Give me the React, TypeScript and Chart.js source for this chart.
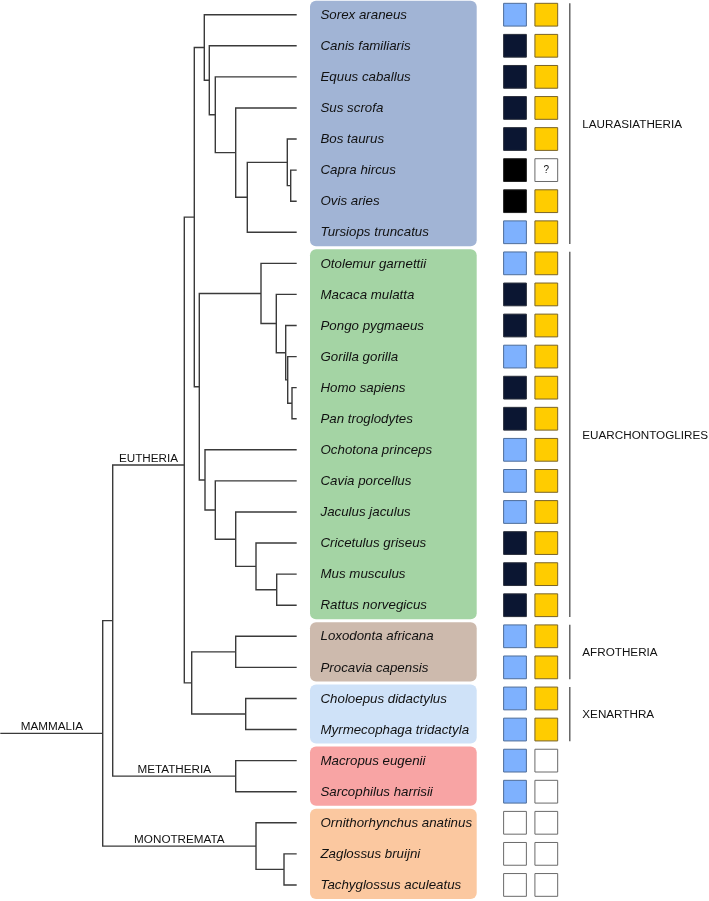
import React, { useEffect, useRef } from 'react';
import { Chart, registerables } from 'chart.js';

Chart.register(...registerables);

// ---------- data ----------
const species = [
  'Sorex araneus', 'Canis familiaris', 'Equus caballus', 'Sus scrofa', 'Bos taurus',
  'Capra hircus', 'Ovis aries', 'Tursiops truncatus',
  'Otolemur garnettii', 'Macaca mulatta', 'Pongo pygmaeus', 'Gorilla gorilla',
  'Homo sapiens', 'Pan troglodytes', 'Ochotona princeps', 'Cavia porcellus',
  'Jaculus jaculus', 'Cricetulus griseus', 'Mus musculus', 'Rattus norvegicus',
  'Loxodonta africana', 'Procavia capensis',
  'Choloepus didactylus', 'Myrmecophaga tridactyla',
  'Macropus eugenii', 'Sarcophilus harrisii',
  'Ornithorhynchus anatinus', 'Zaglossus bruijni', 'Tachyglossus aculeatus',
];

// first trait column: L = light blue, D = dark navy, K = black, W = absent
const traitA = [
  'L', 'D', 'D', 'D', 'D', 'K', 'K', 'L',
  'L', 'D', 'D', 'L', 'D', 'D', 'L', 'L', 'L', 'D', 'D', 'D',
  'L', 'L', 'L', 'L', 'L', 'L', 'W', 'W', 'W',
];
// second trait column: Y = yellow, Q = unknown, W = absent
const traitB = [
  'Y', 'Y', 'Y', 'Y', 'Y', 'Q', 'Y', 'Y',
  'Y', 'Y', 'Y', 'Y', 'Y', 'Y', 'Y', 'Y', 'Y', 'Y', 'Y', 'Y',
  'Y', 'Y', 'Y', 'Y', 'W', 'W', 'W', 'W', 'W',
];

// internal tree nodes (depth = distance along the horizontal axis)
const nodeIds = [
  'Mammalia', 'Theria', 'Eutheria', 'Boreoeutheria', 'Laurasiatheria', 'L2', 'L3', 'L4', 'L5',
  'Bovidae', 'Caprini', 'Euarchontoglires', 'Primates', 'P2', 'P3', 'P4', 'P5',
  'Glires', 'G2', 'G3', 'G4', 'G5', 'Atlantogenata', 'Afrotheria', 'Xenarthra',
  'Metatheria', 'Monotremata', 'Echidnas',
];
const nodeDepths = [
  102.7, 112.7, 184.3, 194.3, 204.3, 209.3, 215.3, 235.7, 247.3,
  287.3, 290.7, 199.3, 261, 276.3, 285.7, 287.7, 292,
  205, 215.3, 235.7, 256, 276.7, 191.7, 235.7, 245.7,
  235.7, 256, 284,
];
const nodeChildren = [
  ['Theria', 'Monotremata'], ['Eutheria', 'Metatheria'], ['Boreoeutheria', 'Atlantogenata'],
  ['Laurasiatheria', 'Euarchontoglires'], ['Sorex araneus', 'L2'], ['Canis familiaris', 'L3'],
  ['Equus caballus', 'L4'], ['Sus scrofa', 'L5'], ['Bovidae', 'Tursiops truncatus'],
  ['Bos taurus', 'Caprini'], ['Capra hircus', 'Ovis aries'], ['Primates', 'Glires'],
  ['Otolemur garnettii', 'P2'], ['Macaca mulatta', 'P3'], ['Pongo pygmaeus', 'P4'],
  ['Gorilla gorilla', 'P5'], ['Homo sapiens', 'Pan troglodytes'],
  ['Ochotona princeps', 'G2'], ['Cavia porcellus', 'G3'], ['Jaculus jaculus', 'G4'],
  ['Cricetulus griseus', 'G5'], ['Mus musculus', 'Rattus norvegicus'],
  ['Afrotheria', 'Xenarthra'], ['Loxodonta africana', 'Procavia capensis'],
  ['Choloepus didactylus', 'Myrmecophaga tridactyla'],
  ['Macropus eugenii', 'Sarcophilus harrisii'], ['Ornithorhynchus anatinus', 'Echidnas'],
  ['Zaglossus bruijni', 'Tachyglossus aculeatus'],
];
const nodeRowOverride: Record<string, number> = { Eutheria: 14.49 };
const tipDepth = 296;
const rootStemDepth = 1;

const cladeLabelNodes = ['Mammalia', 'Eutheria', 'Metatheria', 'Monotremata'];
const cladeLabels = ['MAMMALIA', 'EUTHERIA', 'METATHERIA', 'MONOTREMATA'];

const boxStart = [0, 8, 20, 22, 24, 26];
const boxEnd = [7, 19, 21, 23, 25, 28];
const boxColors = ['#A1B4D5', '#A4D4A4', '#CDBAAD', '#CFE2F8', '#F8A4A4', '#FBC8A0'];

const groupNames = ['LAURASIATHERIA', 'EUARCHONTOGLIRES', 'AFROTHERIA', 'XENARTHRA'];
const groupStart = [0, 8, 20, 22];
const groupEnd = [7, 19, 21, 23];

// ---------- layout / style ----------
const W = 709;
const H = 901;
const ROW0 = 14.7;
const ROWSTEP = 31.08;
const COL0 = 515;
const COLSTEP = 31.3;

const FILL: Record<string, string> = {
  L: '#7EB1FE', D: '#0B1632', K: '#000000', W: '#FFFFFF', Y: '#FFCC00', Q: '#FFFFFF',
};
const EDGE: Record<string, string> = {
  L: '#4E6D99', D: '#2A2F3C', K: '#222222', W: '#6A6A6A', Y: '#7A6428', Q: '#6A6A6A',
};
const SANS = "'Liberation Sans', Arial, sans-serif";

function rowOf(id: string): number {
  const li = species.indexOf(id);
  if (li >= 0) return li;
  if (nodeRowOverride[id] !== undefined) return nodeRowOverride[id];
  const ch = nodeChildren[nodeIds.indexOf(id)];
  return (rowOf(ch[0]) + rowOf(ch[ch.length - 1])) / 2;
}
function depthOf(id: string): number {
  const ni = nodeIds.indexOf(id);
  return ni >= 0 ? nodeDepths[ni] : tipDepth;
}
function parentOf(id: string): string | null {
  for (let i = 0; i < nodeIds.length; i++) if (nodeChildren[i].includes(id)) return nodeIds[i];
  return null;
}

function buildTree() {
  const pts: { x: number; y: number | null }[] = [];
  const rootRow = rowOf(nodeIds[0]);
  pts.push({ x: rootStemDepth, y: rootRow }, { x: depthOf(nodeIds[0]), y: rootRow }, { x: 0, y: null });
  nodeIds.forEach((id, i) => {
    const ch = nodeChildren[i];
    const a = ch[0];
    const b = ch[ch.length - 1];
    const d = nodeDepths[i];
    pts.push(
      { x: depthOf(a), y: rowOf(a) },
      { x: d, y: rowOf(a) },
      { x: d, y: rowOf(b) },
      { x: depthOf(b), y: rowOf(b) },
      { x: d, y: null },
    );
  });
  return pts;
}

function buildGroupLines() {
  const pts: { x: number; y: number | null }[] = [];
  groupNames.forEach((_, i) => {
    pts.push({ x: 1.75, y: groupStart[i] - 0.37 }, { x: 1.75, y: groupEnd[i] + 0.38 }, { x: 1.75, y: null });
  });
  return pts;
}

const decorPlugin = {
  id: 'decor',
  beforeDatasetsDraw(chart: any) {
    const { ctx, scales } = chart;
    const x = scales.x;
    const y = scales.y;
    ctx.save();
    boxStart.forEach((s, i) => {
      const top = y.getPixelForValue(s - 0.5) + 1.5;
      const bot = y.getPixelForValue(boxEnd[i] + 0.5) - 1.5;
      const l = x.getPixelForValue(310);
      const r = x.getPixelForValue(476.7);
      ctx.fillStyle = boxColors[i];
      ctx.beginPath();
      ctx.roundRect(l, top, r - l, bot - top, 6);
      ctx.fill();
    });
    ctx.restore();
  },
  afterDatasetsDraw(chart: any) {
    const { ctx, scales } = chart;
    const x = scales.x;
    const y = scales.y;
    const xc = scales.xc;
    ctx.save();
    // species names
    ctx.fillStyle = '#111';
    ctx.textBaseline = 'middle';
    ctx.textAlign = 'left';
    ctx.font = `italic 13.3px ${SANS}`;
    species.forEach((s, i) => {
      ctx.fillText(s, x.getPixelForValue(320.5), y.getPixelForValue(i) + 0.5);
    });
    // clade labels on branches
    ctx.font = `11.7px ${SANS}`;
    ctx.textAlign = 'center';
    ctx.textBaseline = 'alphabetic';
    cladeLabelNodes.forEach((id, i) => {
      const p = parentOf(id);
      const x0 = p ? depthOf(p) : rootStemDepth;
      const x1 = depthOf(id);
      const cx = (x.getPixelForValue(x0) + x.getPixelForValue(x1)) / 2;
      const py = y.getPixelForValue(rowOf(id));
      ctx.fillText(cladeLabels[i], cx, py - 3.5);
    });
    // group labels
    ctx.textAlign = 'left';
    ctx.textBaseline = 'middle';
    groupNames.forEach((g, i) => {
      ctx.fillText(g, xc.getPixelForValue(2.15), y.getPixelForValue((groupStart[i] + groupEnd[i]) / 2) + 1);
    });
    // unknown marks
    ctx.font = `10px ${SANS}`;
    ctx.textAlign = 'center';
    traitB.forEach((t, i) => {
      if (t === 'Q') ctx.fillText('?', xc.getPixelForValue(1), y.getPixelForValue(i) + 0.5);
    });
    ctx.restore();
  },
};

export default function App() {
  const ref = useRef<HTMLCanvasElement | null>(null);
  useEffect(() => {
    if (!ref.current) return;
    const chart = new Chart(ref.current, {
      type: 'scatter',
      data: {
        datasets: [
          {
            label: 'tree',
            data: buildTree() as any,
            showLine: true,
            borderColor: '#3A3A3A',
            borderWidth: 1.4,
            pointRadius: 0,
            spanGaps: false,
            tension: 0,
            borderCapStyle: 'square',
            borderJoinStyle: 'miter',
            clip: false,
          } as any,
          {
            label: 'groups',
            data: buildGroupLines() as any,
            xAxisID: 'xc',
            showLine: true,
            borderColor: '#666666',
            borderWidth: 1.5,
            pointRadius: 0,
            spanGaps: false,
            clip: false,
          } as any,
          {
            label: 'traitA',
            data: traitA.map((_, i) => ({ x: 0, y: i })),
            xAxisID: 'xc',
            pointStyle: 'rect',
            pointRadius: 16.1,
            pointBorderWidth: 1,
            pointBackgroundColor: traitA.map((t) => FILL[t]),
            pointBorderColor: traitA.map((t) => EDGE[t]),
            clip: false,
          } as any,
          {
            label: 'traitB',
            data: traitB.map((_, i) => ({ x: 1, y: i })),
            xAxisID: 'xc',
            pointStyle: 'rect',
            pointRadius: 16.1,
            pointBorderWidth: 1,
            pointBackgroundColor: traitB.map((t) => FILL[t]),
            pointBorderColor: traitB.map((t) => EDGE[t]),
            clip: false,
          } as any,
        ],
      },
      options: {
        animation: false,
        responsive: false,
        devicePixelRatio: 1,
        events: [],
        layout: { padding: 0, autoPadding: false },
        plugins: { legend: { display: false }, tooltip: { enabled: false } },
        scales: {
          x: { type: 'linear', display: false, min: 0, max: W, bounds: 'data' },
          xc: {
            type: 'linear', display: false, bounds: 'data',
            min: -COL0 / COLSTEP, max: (W - COL0) / COLSTEP,
          },
          y: {
            type: 'linear', display: false, reverse: true, bounds: 'data',
            min: -ROW0 / ROWSTEP, max: (H - ROW0) / ROWSTEP,
          },
        },
      } as any,
      plugins: [decorPlugin],
    });
    return () => chart.destroy();
  }, []);
  return (
    <div style={{ position: 'absolute', left: 0, top: 0, width: W, height: H, background: '#fff' }}>
      <canvas ref={ref} width={W} height={H} style={{ display: 'block' }} />
    </div>
  );
}
